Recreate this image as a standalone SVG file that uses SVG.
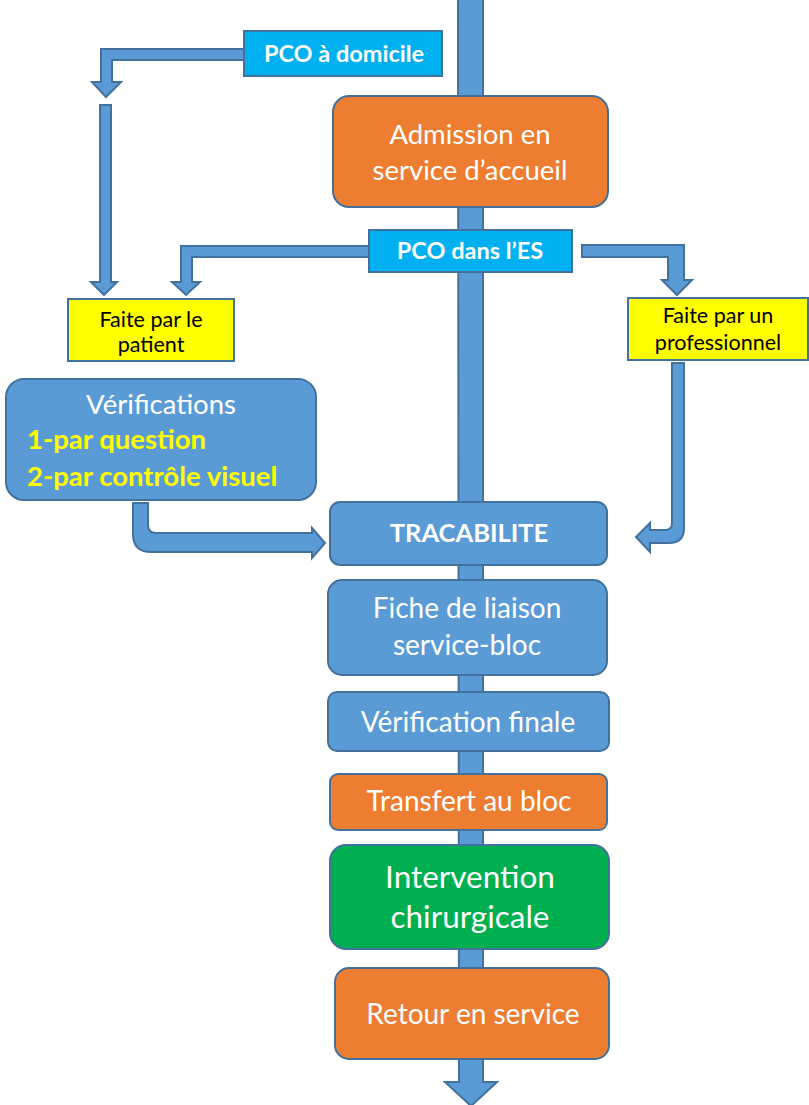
<svg xmlns="http://www.w3.org/2000/svg" width="809" height="1105" viewBox="0 0 809 1105">
<style>
.arr{fill:#5B9BD5;stroke:#41719C;stroke-width:2;stroke-linejoin:miter}
.blue{fill:#5B9BD5;stroke:#41719C;stroke-width:2}
.orange{fill:#ED7D31;stroke:#41719C;stroke-width:2}
.green{fill:#00B050;stroke:#41719C;stroke-width:2}
.cyan{fill:#00B0F0;stroke:#41719C;stroke-width:2}
.yellow{fill:#FFFF00;stroke:#41719C;stroke-width:2}
text{font-family:Lato,"Open Sans","Liberation Sans",sans-serif;text-anchor:middle}
.w{fill:#FFFFFF}
.b{font-weight:bold}
.y{fill:#FFFF00;font-weight:bold;text-anchor:start}
.k{fill:#000000;font-size:21.5px}
</style>
<rect width="809" height="1105" fill="#FFFFFF"/>
<g id="connectors">
<path class="arr" d="M458,-2 L483,-2 L483,1082 L497,1082 L471,1106 L445,1082 L459,1082 Z"/>
<path class="arr" d="M244,49 L101,49 L101,82 L92,82 L106,97 L121,82 L112,82 L112,60 L244,60 Z"/>
<path class="arr" d="M100,105 L111,105 L111,282 L117,282 L104,295 L91,282 L100,282 Z"/>
<path class="arr" d="M369,246 L181,246 L181,282 L172,282 L186,295 L200,282 L192,282 L192,257 L369,257 Z"/>
<path class="arr" d="M582,245 L684,245 L684,280 L692,280 L677,295 L662,280 L668,280 L668,257 L582,257 Z"/>
<path class="arr" d="M672,363 L684,363 L684,528 Q684,543 669,543 L650,543 L650,552 L636,537 L650,523 L650,530 L665,530 Q672,530 672,523 Z"/>
<path class="arr" d="M133,503 L148,503 L148,525 Q148,533 156,533 L312,533 L312,528 L325,543 L312,558 L312,552 L151,552 Q133,552 133,534 Z"/>
</g>
<g id="pco-domicile"><rect class="cyan" x="244" y="31" width="198" height="45"/><text class="w b" x="344" y="62" font-size="23.5">PCO à domicile</text></g>
<g id="admission"><rect class="orange" x="333" y="96" width="275" height="111" rx="16"/><text class="w" x="470" y="144" font-size="27.5">Admission en</text><text class="w" x="470" y="180" font-size="27.5">service d’accueil</text></g>
<g id="pco-es"><rect class="cyan" x="369" y="230" width="203" height="42"/><text class="w b" x="470" y="259" font-size="23.5">PCO dans l’ES</text></g>
<g id="faite-patient"><rect class="yellow" x="68" y="299" width="166" height="62"/><text class="k" x="151" y="327">Faite par le</text><text class="k" x="151" y="352">patient</text></g>
<g id="faite-pro"><rect class="yellow" x="628" y="298" width="180" height="62"/><text class="k" x="718" y="323">Faite par un</text><text class="k" x="718" y="350">professionnel</text></g>
<g id="verifications"><rect class="blue" x="6" y="379" width="310" height="121" rx="18"/><text class="w" x="161" y="414" font-size="27.5">Vérifications</text><text class="y" x="27" y="449" font-size="27.5">1-par question</text><text class="y" x="27" y="486" font-size="27.5">2-par contrôle visuel</text></g>
<g id="tracabilite"><rect class="blue" x="330" y="502" width="277" height="63" rx="10"/><text class="w b" x="469" y="542" font-size="25.5">TRACABILITE</text></g>
<g id="fiche"><rect class="blue" x="328" y="580" width="279" height="95" rx="14"/><text class="w" x="467" y="618" font-size="28">Fiche de liaison</text><text class="w" x="467" y="655" font-size="28">service-bloc</text></g>
<g id="verif-finale"><rect class="blue" x="328" y="692" width="281" height="59" rx="9"/><text class="w" x="468" y="732" font-size="28">Vérification finale</text></g>
<g id="transfert"><rect class="orange" x="330" y="774" width="277" height="56" rx="8"/><text class="w" x="469" y="811" font-size="28">Transfert au bloc</text></g>
<g id="intervention"><rect class="green" x="330" y="845" width="279" height="104" rx="16"/><text class="w" x="470" y="888" font-size="31.5">Intervention</text><text class="w" x="470" y="928" font-size="31.5">chirurgicale</text></g>
<g id="retour"><rect class="orange" x="335" y="968" width="274" height="91" rx="14"/><text class="w" x="473" y="1024" font-size="28">Retour en service</text></g>
</svg>
